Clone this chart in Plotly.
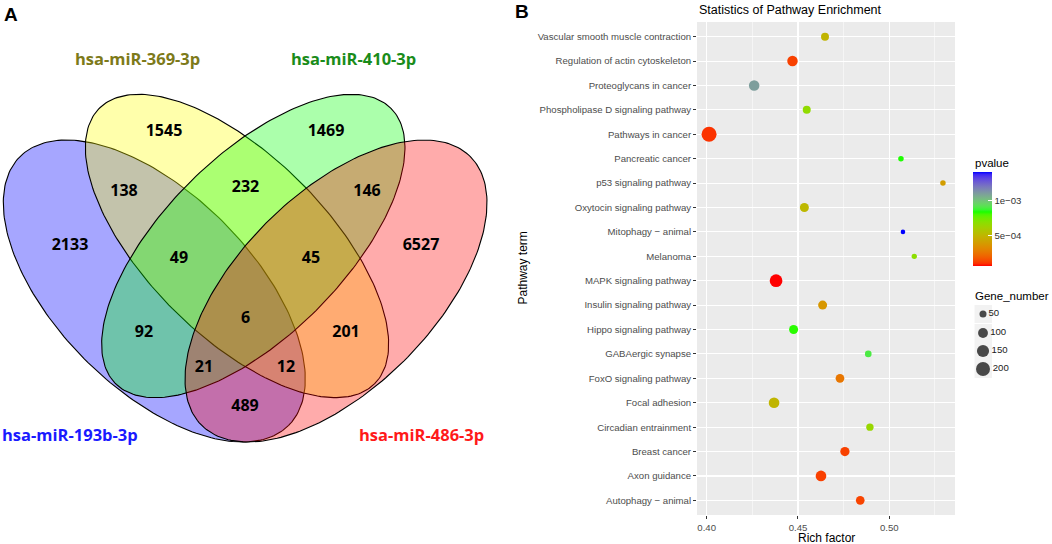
import numpy as np
import plotly.graph_objects as go

# ------------------------- DATA -------------------------
# Panel A: four-set Venn diagram
venn_sets = ["hsa-miR-193b-3p", "hsa-miR-369-3p", "hsa-miR-410-3p", "hsa-miR-486-3p"]
venn_set_colors = ["#1a1aff", "#7d7a1a", "#1a8c1a", "#ff1a1a"]
# region counts (order matches region_label_pos below)
venn_region_names = ["193b", "369", "410", "486", "193b&369", "369&410", "410&486",
                     "193b&369&410", "369&410&486", "all", "193b&410", "369&486",
                     "193b&410&486", "193b&369&486", "193b&486"]
venn_region_counts = [2133, 1545, 1469, 6527, 138, 232, 146, 49, 45, 6, 92, 201, 21, 12, 489]

# Panel B: pathway enrichment dot plot (top to bottom)
pathways = [
    "Vascular smooth muscle contraction",
    "Regulation of actin cytoskeleton",
    "Proteoglycans in cancer",
    "Phospholipase D signaling pathway",
    "Pathways in cancer",
    "Pancreatic cancer",
    "p53 signaling pathway",
    "Oxytocin signaling pathway",
    "Mitophagy \u2212 animal",
    "Melanoma",
    "MAPK signaling pathway",
    "Insulin signaling pathway",
    "Hippo signaling pathway",
    "GABAergic synapse",
    "FoxO signaling pathway",
    "Focal adhesion",
    "Circadian entrainment",
    "Breast cancer",
    "Axon guidance",
    "Autophagy \u2212 animal",
]
rich_factor = [0.4648, 0.4470, 0.4260, 0.4548, 0.4013, 0.5064, 0.5294, 0.4535, 0.5075, 0.5137,
               0.4380, 0.4635, 0.4476, 0.4885, 0.4730, 0.4369, 0.4894, 0.4757, 0.4626, 0.4841]
pvalue = [4.97e-4, 1.30e-4, 1.10e-3, 6.70e-4, 1.07e-4, 8.40e-4, 4.00e-4, 5.10e-4, 1.41e-3, 6.85e-4,
          6.70e-5, 3.76e-4, 8.30e-4, 9.00e-4, 2.60e-4, 5.00e-4, 6.50e-4, 1.30e-4, 1.27e-4, 1.34e-4]
gene_number = [65, 112, 112, 65, 230, 31, 31, 83, 21, 29,
               164, 83, 83, 45, 77, 116, 55, 88, 116, 77]

x_tick_vals = [0.40, 0.45, 0.50]
colorbar_tick_vals = [5e-4, 1e-3]
colorbar_tick_text = ["5e\u221204", "1e\u221203"]
size_legend_values = [50, 100, 150, 200]

# ------------------------- HELPERS -------------------------
W, H = 1052, 544


def px(x):
    return x / W


def py(y):
    return 1 - y / H


M = np.array([[0.4124564, 0.3575761, 0.1804375],
              [0.2126729, 0.7151522, 0.0721750],
              [0.0193339, 0.1191920, 0.9503041]])
WHITE = np.array([0.95047, 1.0, 1.08883])


def _f(t):
    return np.where(t > 0.008856, np.cbrt(t), 7.787 * t + 16 / 116)


def _finv(t):
    return np.where(t > 0.206893, t ** 3, (t - 16 / 116) / 7.787)


def hex2lab(h):
    rgb = np.array([int(h[i:i + 2], 16) for i in (1, 3, 5)]) / 255.0
    lin = np.where(rgb <= 0.04045, rgb / 12.92, ((rgb + 0.055) / 1.055) ** 2.4)
    xyz = M @ lin / WHITE
    fx, fy, fz = _f(xyz)
    return np.array([116 * fy - 16, 500 * (fx - fy), 200 * (fy - fz)])


def lab2hex(lab):
    L, a, b = lab
    fy = (L + 16) / 116
    fx = fy + a / 500
    fz = fy - b / 200
    xyz = np.array([_finv(fx), _finv(fy), _finv(fz)]) * WHITE
    lin = np.clip(np.linalg.solve(M, xyz), 0, 1)
    s = np.where(lin <= 0.0031308, 12.92 * lin, 1.055 * lin ** (1 / 2.4) - 0.055)
    s = np.clip(np.round(s * 255), 0, 255).astype(int)
    return "#%02x%02x%02x" % tuple(s)


grad_cols = ["#ff0000", "#00ff00", "#0000ff"]
grad_pos = [0.0, 0.58, 1.0]
labs = [hex2lab(c) for c in grad_cols]
colorscale = []
for t in np.linspace(0, 1, 41):
    i = 0 if t <= grad_pos[1] else 1
    u = (t - grad_pos[i]) / (grad_pos[i + 1] - grad_pos[i])
    colorscale.append([float(t), lab2hex(labs[i] * (1 - u) + labs[i + 1] * u)])


def ellipse(cx, cy, a, b, ang_deg, n=240):
    t = np.linspace(0, 2 * np.pi, n)
    th = np.deg2rad(ang_deg)
    x = cx + a * np.cos(t) * np.cos(th) - b * np.sin(t) * np.sin(th)
    y = cy + a * np.cos(t) * np.sin(th) + b * np.sin(t) * np.cos(th)
    return x, y


# ------------------------- FIGURE -------------------------
fig = go.Figure()

# Venn ellipses (pixel coordinates, y downward)
ell_geom = {
    "hsa-miR-193b-3p": (154.3, 291.0, 190.0, 97.5, 45),
    "hsa-miR-369-3p": (237.0, 246.0, 194.7, 90.0, 45),
    "hsa-miR-410-3p": (253.3, 246.0, 194.7, 90.0, -45),
    "hsa-miR-486-3p": (336.0, 291.0, 190.0, 97.5, -45),
}
ell_fill = {
    "hsa-miR-193b-3p": "rgba(0,0,255,0.35)",
    "hsa-miR-369-3p": "rgba(255,255,0,0.33)",
    "hsa-miR-410-3p": "rgba(0,255,0,0.33)",
    "hsa-miR-486-3p": "rgba(255,0,0,0.33)",
}
for name in ["hsa-miR-193b-3p", "hsa-miR-369-3p", "hsa-miR-410-3p", "hsa-miR-486-3p"]:
    ex, ey = ellipse(*ell_geom[name])
    fig.add_trace(go.Scatter(x=ex, y=ey, mode="lines", fill="toself",
                             fillcolor=ell_fill[name], line=dict(color="black", width=1.1),
                             hoverinfo="skip", showlegend=False, xaxis="x", yaxis="y"))

region_label_pos = {
    "193b": (70, 246), "369": (164, 132), "410": (326, 132), "486": (421, 246),
    "193b&369": (124, 192), "369&410": (245.5, 188), "410&486": (367, 192),
    "193b&369&410": (179, 259), "369&410&486": (311, 259), "all": (245.5, 319),
    "193b&410": (144, 333), "369&486": (346, 333), "193b&410&486": (204, 368),
    "193b&369&486": (286, 368), "193b&486": (245, 407),
}
fig.add_trace(go.Scatter(
    x=[region_label_pos[r][0] for r in venn_region_names],
    y=[region_label_pos[r][1] for r in venn_region_names],
    text=["<b>%d</b>" % c for c in venn_region_counts],
    mode="text", textfont=dict(family="Open Sans", size=16, color="black"),
    hoverinfo="skip", showlegend=False, xaxis="x", yaxis="y"))

set_label_pos = [(70, 434), (137, 58), (353, 58), (421, 434)]
for name, col, (lx, ly) in zip(venn_sets, venn_set_colors, set_label_pos):
    fig.add_annotation(x=lx, y=ly, xref="x", yref="y", text="<b>%s</b>" % name,
                       showarrow=False, font=dict(family="Open Sans", size=16.5, color=col),
                       xanchor="center", yanchor="middle")

# Dot plot
fig.add_trace(go.Scatter(
    x=rich_factor, y=pathways, mode="markers",
    marker=dict(size=[0.99 * np.sqrt(g) for g in gene_number], sizemode="diameter",
                color=pvalue, colorscale=colorscale, cmin=6.7e-5, cmax=1.41e-3,
                line=dict(width=0), opacity=1,
                colorbar=dict(x=px(973), xanchor="left", xpad=0, ypad=0,
                              y=py(219), yanchor="middle", len=94 / H, lenmode="fraction",
                              thickness=19, thicknessmode="pixels", outlinewidth=0,
                              tickvals=colorbar_tick_vals, ticktext=colorbar_tick_text,
                              ticks="inside", ticklen=4, tickcolor="white", tickwidth=1,
                              tickfont=dict(family="Liberation Sans", size=9.6, color="#333333"),
                              title=dict(text=""))),
    showlegend=False, xaxis="x2", yaxis="y2"))

# Size legend
size_leg_y = [314, 333, 351, 369]
for yy in size_leg_y:
    fig.add_shape(type="rect", xref="x3", yref="y3", x0=974.5, x1=992, y0=yy - 9, y1=yy + 9,
                  fillcolor="#f2f2f2", line=dict(width=0), layer="below")
fig.add_trace(go.Scatter(
    x=[983] * len(size_legend_values), y=size_leg_y, mode="markers+text",
    marker=dict(size=[0.99 * np.sqrt(v) for v in size_legend_values], color="black",
                line=dict(width=0)),
    text=[str(v) for v in size_legend_values], textposition="middle right",
    textfont=dict(family="Liberation Sans", size=9.6, color="#1a1a1a"),
    hoverinfo="skip", showlegend=False, xaxis="x3", yaxis="y3"))

# grey panel
fig.add_shape(type="rect", xref="x2 domain", yref="y2 domain", x0=0, x1=1, y0=0, y1=1,
              fillcolor="#ebebeb", line=dict(width=0), layer="below")

# texts
txt_font = "Liberation Sans"
fig.add_annotation(x=px(11), y=py(14), xref="paper", yref="paper", text="<b>A</b>",
                   showarrow=False, xanchor="center", yanchor="middle",
                   font=dict(family=txt_font, size=19, color="black"))
fig.add_annotation(x=px(522), y=py(11), xref="paper", yref="paper", text="<b>B</b>",
                   showarrow=False, xanchor="center", yanchor="middle",
                   font=dict(family=txt_font, size=19, color="black"))
fig.add_annotation(x=px(697), y=py(10), xref="paper", yref="paper",
                   text="Statistics of Pathway Enrichment", showarrow=False,
                   xanchor="left", yanchor="middle", font=dict(family=txt_font, size=12.5, color="black"))
fig.add_annotation(x=px(826), y=py(538), xref="paper", yref="paper", text="Rich factor",
                   showarrow=False, xanchor="center", yanchor="middle",
                   font=dict(family=txt_font, size=12, color="black"))
fig.add_annotation(x=px(522), y=py(268.5), xref="paper", yref="paper", text="Pathway term",
                   showarrow=False, textangle=-90, xanchor="center", yanchor="middle",
                   font=dict(family=txt_font, size=12, color="black"))
fig.add_annotation(x=px(973), y=py(163), xref="paper", yref="paper", text="pvalue",
                   showarrow=False, xanchor="left", yanchor="middle",
                   font=dict(family=txt_font, size=11.5, color="black"))
fig.add_annotation(x=px(973), y=py(296), xref="paper", yref="paper", text="Gene_number",
                   showarrow=False, xanchor="left", yanchor="middle",
                   font=dict(family=txt_font, size=11.5, color="black"))

fig.update_layout(
    width=W, height=H, margin=dict(l=0, r=0, t=0, b=0),
    paper_bgcolor="white", plot_bgcolor="rgba(0,0,0,0)",
    showlegend=False,
    xaxis=dict(domain=[0, 500 / W], range=[0, 500], visible=False, fixedrange=True),
    yaxis=dict(domain=[0, 1], range=[H, 0], visible=False, fixedrange=True),
    xaxis2=dict(domain=[px(697), px(955)], range=[0.3947, 0.536], anchor="y2",
                tickvals=x_tick_vals, tickformat=".2f", ticks="outside", ticklen=3,
                tickcolor="#333333", tickwidth=1,
                tickfont=dict(family=txt_font, size=9.6, color="#4d4d4d"),
                showgrid=True, gridcolor="white", gridwidth=1.1, zeroline=False, showline=False,
                minor=dict(tickvals=[0.425, 0.475, 0.525], showgrid=True, gridcolor="white",
                           gridwidth=0.5, ticks=""),
                fixedrange=True),
    yaxis2=dict(domain=[py(515), py(22)], anchor="x2", type="category",
                categoryorder="array", categoryarray=pathways[::-1], range=[-0.6, 19.6],
                ticks="outside", ticklen=3, tickcolor="#333333", tickwidth=1,
                tickfont=dict(family=txt_font, size=9.6, color="#4d4d4d"),
                showgrid=True, gridcolor="white", gridwidth=1.1, zeroline=False, showline=False,
                fixedrange=True),
    xaxis3=dict(domain=[px(960), 1], range=[960, W], visible=False, fixedrange=True, anchor="y3"),
    yaxis3=dict(domain=[0, 1], range=[H, 0], visible=False, fixedrange=True, anchor="x3"),
)

fig.write_html("out.html", config={"displayModeBar": False, "staticPlot": True},
               post_script="document.body.style.margin='0px';document.body.style.overflow='hidden';")
